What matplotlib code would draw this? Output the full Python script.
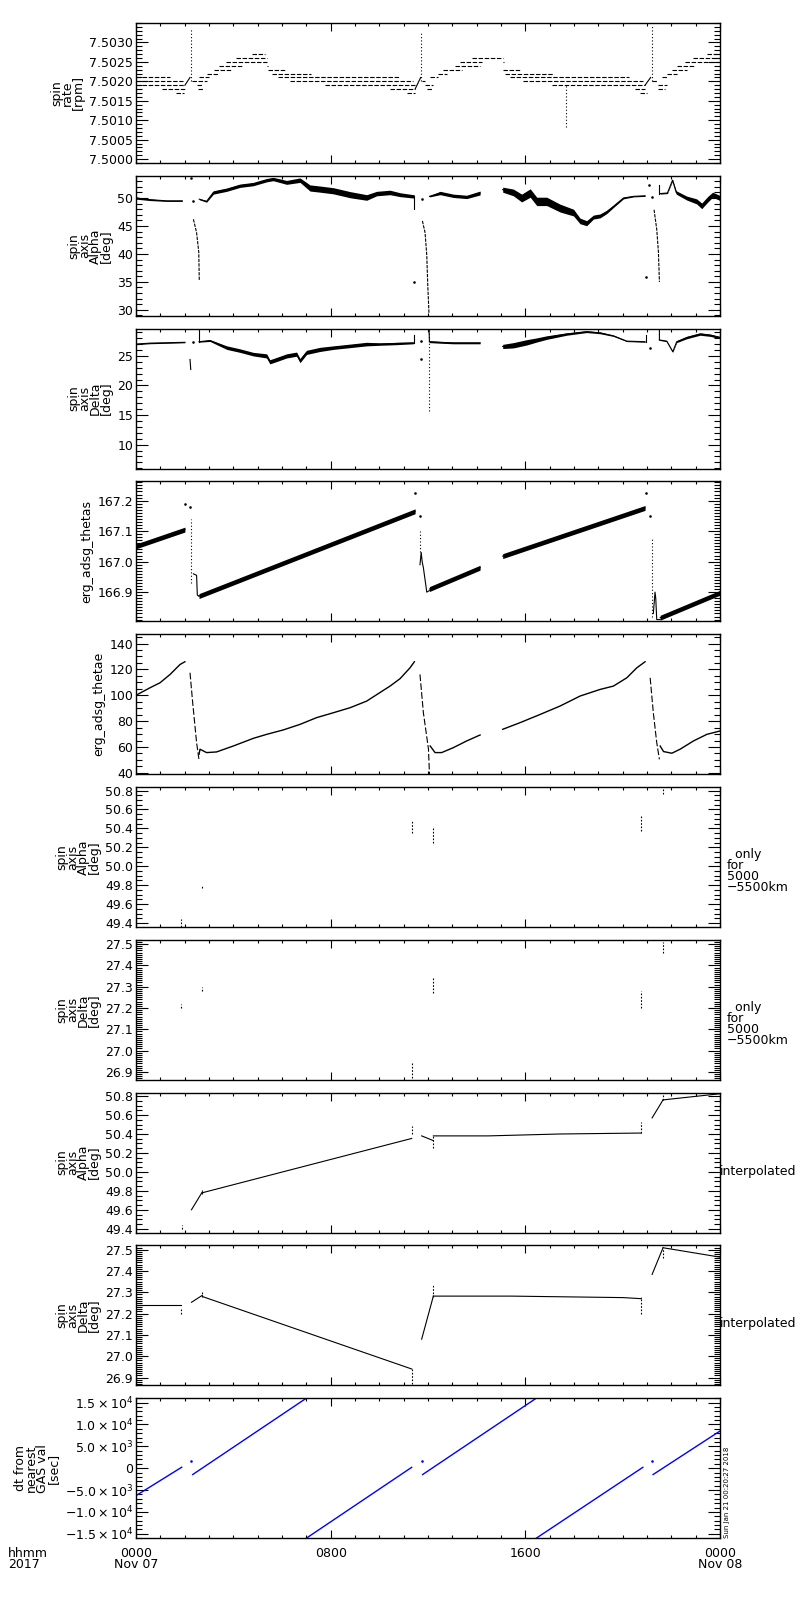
import matplotlib
matplotlib.use("Agg")
import matplotlib.pyplot as plt
import numpy as np
from matplotlib.ticker import FixedLocator, MultipleLocator, FixedFormatter, FormatStrFormatter

# ---------------- data (time in hours from 2017-11-07 00:00) ----------------
X_TICKS = [0, 8, 16, 24]
X_TICK_LABELS = ["0000\nNov 07", "0800", "1600", "0000\nNov 08"]

# Panel 1: spin rate [rpm] - quantised levels, drawn as runs
P1_RUN_START = [0.0, 0.0, 0.0, 1.05, 1.64, 2.30, 2.50, 2.55, 2.60, 2.90, 3.20, 3.40, 3.70, 4.10, 4.75,
                5.37, 5.44, 5.60, 5.85, 6.33, 7.77, 10.44, 11.13,
                11.74, 11.88, 11.95, 12.09, 12.43, 12.63, 13.11, 13.32, 13.80, 15.07, 15.10, 15.17,
                15.37, 15.92, 17.10, 20.51, 20.72,
                21.20, 21.47, 21.47, 21.60, 21.81, 22.02, 22.22, 22.56, 22.91, 23.46]
P1_RUN_END = [1.40, 1.95, 2.00, 2.00, 1.97, 2.90, 2.75, 2.75, 3.00, 3.40, 3.90, 4.40, 5.40, 5.40, 5.30,
              5.44, 6.12, 7.20, 10.85, 11.40, 11.47, 11.47, 11.47,
              11.88, 12.22, 12.15, 12.43, 12.77, 13.39, 14.14, 14.21, 15.10, 15.13, 15.78, 17.15,
              20.24, 20.85, 20.90, 20.92, 20.99,
              21.40, 21.81, 21.74, 21.88, 22.22, 22.63, 22.98, 24.0, 24.0, 24.0]
P1_RUN_LEVEL = [7.5021, 7.5020, 7.5019, 7.5018, 7.5017, 7.5020, 7.5019, 7.5018, 7.5021, 7.5022, 7.5023,
                7.5024, 7.5025, 7.5026, 7.5027,
                7.5024, 7.5023, 7.5022, 7.5021, 7.5020, 7.5019, 7.5018, 7.5017,
                7.5020, 7.5019, 7.5018, 7.5021, 7.5022, 7.5023, 7.5024, 7.5025, 7.5026, 7.5025, 7.5023,
                7.5022, 7.5021, 7.5020, 7.5019, 7.5018, 7.5017,
                7.5020, 7.5019, 7.5018, 7.5021, 7.5022, 7.5023, 7.5024, 7.5025, 7.5026, 7.5027]
P1_RAMP_H0 = [2.01, 11.47, 20.92]
P1_RAMP_H1 = [2.22, 11.70, 21.15]
P1_RAMP_V0 = [7.5019, 7.5018, 7.5019]
P1_RAMP_V1 = [7.5021, 7.5021, 7.5021]
P1_SPIKE_H = [2.26, 11.70, 21.20, 17.67]
P1_SPIKE_LO = [7.5020, 7.5020, 7.5020, 7.50082]
P1_SPIKE_HI = [7.50334, 7.50326, 7.50343, 7.5019]

# Panel 2: spin axis Alpha [deg] - band segments (centre, half width)
P2_SEG_H = [[0.0, 0.575, 1.26, 1.9],
            [2.6, 2.9, 3.18, 3.73, 4.27, 4.82, 5.37, 5.64, 6.19, 6.74, 7.15, 7.56, 8.11, 8.8, 9.48,
             9.89, 10.44, 10.85, 11.4, 11.44],
            [12.06, 12.5, 13.04, 13.59, 14.14],
            [15.07, 15.51, 15.85, 16.2, 16.47, 16.88, 17.43, 17.98, 18.25, 18.52, 18.8, 19.07, 19.34,
             19.62, 20.03, 20.44, 20.92],
            [21.54, 21.84, 22.05, 22.2, 22.63, 23.04, 23.25, 23.5, 23.7, 24.0]]
P2_SEG_V = [[50.0, 49.7, 49.5, 49.5],
            [49.8, 49.4, 51.0, 51.5, 52.2, 52.5, 53.2, 53.4, 52.8, 53.2, 51.8, 51.6, 51.3, 50.6, 50.1,
             50.8, 51.0, 50.6, 50.3, 50.3],
            [50.3, 50.9, 50.4, 50.2, 50.9],
            [51.5, 51.0, 50.0, 50.9, 49.4, 49.4, 48.2, 47.4, 45.9, 45.5, 46.6, 46.8, 47.5, 48.5, 50.0,
             50.3, 50.4],
            [50.8, 50.9, 53.2, 51.0, 50.0, 49.4, 48.6, 49.8, 50.6, 50.0]]
P2_SEG_W = [[0.2, 0.15, 0.1, 0.1],
            [0.1, 0.15, 0.3, 0.3, 0.3, 0.3, 0.3, 0.3, 0.35, 0.4, 0.55, 0.55, 0.55, 0.55, 0.5, 0.4,
             0.4, 0.35, 0.3, 0.2],
            [0.1, 0.3, 0.3, 0.3, 0.35],
            [0.45, 0.6, 0.7, 0.75, 0.75, 0.75, 0.7, 0.6, 0.5, 0.45, 0.35, 0.35, 0.3, 0.2, 0.15, 0.1,
             0.1],
            [0.1, 0.1, 0.15, 0.3, 0.35, 0.45, 0.5, 0.5, 0.45, 0.45]]
P2_DIP_H = [[2.36, 2.49, 2.58, 2.6], [11.77, 11.88, 11.95, 11.99, 12.04], [21.29, 21.4, 21.47, 21.51]]
P2_DIP_V = [[46.2, 43.8, 40.3, 35.3], [45.9, 43.8, 39.7, 34.4, 29.4], [47.9, 44.4, 40.3, 35.0]]
P2_DOT_H = [2.26, 2.33, 11.44, 11.74, 20.95, 21.1, 21.2]
P2_DOT_V = [53.6, 49.5, 34.9, 49.9, 35.8, 52.4, 50.2]
P2_STEP_H = [[11.44, 11.44], [21.51, 21.51]]
P2_STEP_V = [[50.3, 48.0], [50.8, 52.4]]

# Panel 3: spin axis Delta [deg]
P3_SEG_H = [[0.0, 0.575, 2.01],
            [2.59, 3.04, 3.73, 4.27, 4.82, 5.37, 5.5, 5.78, 6.19, 6.6, 6.74, 7.01, 7.56, 8.11, 8.8,
             9.48, 10.03, 10.71, 11.4],
            [12.06, 12.5, 13.04, 14.14],
            [15.07, 15.51, 16.06, 16.47, 16.88, 17.7, 18.52, 19.07, 19.62, 20.17, 20.92],
            [21.51, 21.81, 22.06, 22.22, 22.63, 23.18, 23.6, 24.0]]
P3_SEG_V = [[27.0, 27.16, 27.3],
            [27.4, 27.6, 26.4, 25.9, 25.3, 25.0, 24.0, 24.4, 25.0, 25.3, 24.2, 25.6, 26.1, 26.4, 26.7,
             27.0, 27.0, 27.1, 27.2],
            [27.4, 27.3, 27.2, 27.2],
            [26.6, 26.8, 27.3, 27.7, 28.1, 28.7, 29.1, 28.9, 28.4, 27.5, 27.4],
            [27.7, 27.5, 25.7, 27.4, 28.1, 28.7, 28.5, 28.1]]
P3_SEG_W = [[0.1, 0.1, 0.08],
            [0.08, 0.15, 0.3, 0.3, 0.3, 0.35, 0.35, 0.35, 0.35, 0.35, 0.35, 0.35, 0.35, 0.3, 0.3, 0.3,
             0.2, 0.2, 0.15],
            [0.15, 0.15, 0.15, 0.15],
            [0.35, 0.45, 0.45, 0.35, 0.3, 0.2, 0.15, 0.15, 0.1, 0.08, 0.08],
            [0.08, 0.08, 0.08, 0.15, 0.2, 0.2, 0.2, 0.2]]
P3_LINE_H = [[2.22, 2.25], [2.49, 2.59, 2.59], [11.44, 11.44], [11.95, 12.04, 12.06], [20.95, 20.95],
             [21.33, 21.51, 21.51]]
P3_LINE_V = [[24.4, 22.7], [29.6, 29.6, 27.4], [27.2, 28.5], [29.6, 29.6, 27.4], [27.4, 28.5],
             [29.5, 29.6, 27.7]]
P3_SPIKE_H = [12.04]
P3_SPIKE_LO = [15.6]
P3_SPIKE_HI = [29.5]
P3_DOT_H = [2.33, 11.7, 11.7, 21.13]
P3_DOT_V = [27.3, 27.6, 24.5, 26.4]

# Panel 4: erg_adsg_thetas
P4_SEG_H = [[0.0, 2.01], [2.59, 11.47], [12.06, 14.14], [15.07, 20.92], [21.54, 24.0]]
P4_SEG_V = [[167.05, 167.105], [166.887, 167.165], [166.91, 166.98], [167.018, 167.176],
            [166.816, 166.898]]
P4_BAND_W = 0.008
P4_HOOK_H = [[2.36, 2.49, 2.52, 2.59], [11.67, 11.72, 11.76, 11.81, 11.95, 12.06],
             [21.26, 21.33, 21.36, 21.4, 21.54]]
P4_HOOK_V = [[166.96, 166.955, 166.89, 166.887], [166.99, 167.03, 167.0, 166.98, 166.9, 166.905],
             [166.83, 166.9, 166.88, 166.81, 166.81]]
P4_SPIKE_H = [2.25, 11.67, 21.2]
P4_SPIKE_LO = [166.93, 167.03, 166.82]
P4_SPIKE_HI = [167.14, 167.10, 167.08]
P4_DOT_H = [2.01, 2.22, 11.47, 11.67, 20.95, 21.13]
P4_DOT_V = [167.19, 167.18, 167.225, 167.15, 167.225, 167.15]

# Panel 5: erg_adsg_thetae
P5_SEG_H = [[0.0, 0.575, 0.99, 1.4, 1.81, 2.01],
            [2.59, 2.63, 2.9, 3.31, 4.0, 4.82, 5.37, 6.05, 6.74, 7.42, 8.11, 8.8, 9.48, 10.1, 10.44,
             10.85, 11.26, 11.44],
            [12.09, 12.29, 12.56, 13.04, 13.59, 14.14],
            [15.07, 15.78, 16.61, 17.43, 18.25, 19.07, 19.62, 20.17, 20.58, 20.92],
            [21.54, 21.68, 22.02, 22.36, 22.91, 23.46, 24.0]]
P5_SEG_V = [[100.0, 105.8, 109.7, 116.1, 123.8, 125.9],
            [54.4, 58.3, 55.7, 56.2, 60.8, 66.7, 69.8, 73.2, 77.5, 82.7, 86.5, 90.4, 95.5, 103.0,
             107.1, 112.8, 121.2, 125.9],
            [60.8, 55.7, 55.7, 59.5, 64.7, 69.3],
            [73.7, 78.8, 85.2, 91.7, 99.4, 104.5, 107.1, 113.5, 121.2, 125.9],
            [60.8, 56.5, 55.2, 58.3, 64.7, 69.8, 72.4]]
P5_DROP_H = [[2.22, 2.33, 2.49, 2.59], [11.67, 11.81, 12.02, 12.06], [21.13, 21.26, 21.4, 21.51]]
P5_DROP_V = [[117.4, 94.2, 63.4, 50.0], [116.1, 86.5, 58.3, 39.0], [113.5, 86.5, 63.4, 50.5]]

# Panels 6/7: only for 5000-5500 km (short vertical clusters)
P6_MARK_H = [1.85, 2.73, 11.33, 12.22, 20.77, 21.66]
P6_MARK_LO = [49.36, 49.77, 50.35, 50.25, 50.37, 50.76]
P6_MARK_HI = [49.44, 49.80, 50.48, 50.40, 50.53, 50.84]
P7_MARK_H = [1.85, 2.73, 11.33, 12.22, 20.77, 21.66]
P7_MARK_LO = [27.20, 27.28, 26.87, 27.27, 27.20, 27.46]
P7_MARK_HI = [27.22, 27.30, 26.94, 27.34, 27.28, 27.51]

# Panel 8: interpolated Alpha
P8_SEG_H = [[2.28, 2.73], [2.73, 11.33], [11.74, 12.22], [12.22, 14.48, 17.42, 20.77], [21.21, 21.66],
            [21.66, 24.0]]
P8_SEG_V = [[49.60, 49.79], [49.78, 50.353], [50.38, 50.33], [50.38, 50.38, 50.40, 50.41],
            [50.57, 50.76], [50.76, 50.825]]
P8_MARK_H = [1.88, 2.73, 11.33, 12.22, 20.77, 21.66]
P8_MARK_LO = [49.40, 49.77, 50.40, 50.25, 50.41, 50.76]
P8_MARK_HI = [49.44, 49.81, 50.48, 50.38, 50.53, 50.837]

# Panel 9: interpolated Delta
P9_SEG_H = [[0.0, 1.85], [2.28, 2.73], [2.73, 11.33], [11.74, 12.22], [12.22, 15.44, 20.03, 20.77],
            [21.21, 21.66], [21.66, 24.0]]
P9_SEG_V = [[27.24, 27.24], [27.253, 27.286], [27.28, 26.94], [27.08, 27.282],
            [27.282, 27.282, 27.275, 27.27], [27.384, 27.509], [27.509, 27.465]]
P9_MARK_H = [1.85, 2.73, 11.33, 12.22, 20.77, 21.66]
P9_MARK_LO = [27.20, 27.28, 26.87, 27.28, 27.20, 27.46]
P9_MARK_HI = [27.22, 27.30, 26.94, 27.34, 27.28, 27.51]

# Panel 10: dt from nearest GAS val [sec]
P10_SEG_H0 = [0.0, 2.33, 7.0, 11.78, 16.45, 21.25]
P10_SEG_H1 = [1.88, 7.0, 11.33, 16.45, 20.83, 24.0]
P10_SEG_V0 = [-6270, -1450, -16000, -1450, -16000, -1450]
P10_SEG_V1 = [230, 16000, 200, 16000, 200, 8500]
P10_DOT_H = [2.28, 11.74, 21.2]
P10_DOT_V = [1600, 1600, 1600]

YLABELS = ["spin\nrate\n[rpm]", "spin\naxis\nAlpha\n[deg]", "spin\naxis\nDelta\n[deg]",
           "erg_adsg_thetas", "erg_adsg_thetae", "spin\naxis\nAlpha\n[deg]", "spin\naxis\nDelta\n[deg]",
           "spin\naxis\nAlpha\n[deg]", "spin\naxis\nDelta\n[deg]", "dt from\nnearest\nGAS val\n[sec]"]
YLIMS = [(7.4999, 7.5035), (28.93, 53.98), (5.94, 29.62), (166.804, 167.263), (39.0, 147.2),
         (49.359, 50.837), (26.863, 27.52), (49.359, 50.837), (26.863, 27.52), (-16000, 16000)]
YTICKS = [[7.5000, 7.5005, 7.5010, 7.5015, 7.5020, 7.5025, 7.5030],
          [30, 35, 40, 45, 50], [10, 15, 20, 25], [166.9, 167.0, 167.1, 167.2],
          [40, 60, 80, 100, 120, 140],
          [49.4, 49.6, 49.8, 50.0, 50.2, 50.4, 50.6, 50.8],
          [26.9, 27.0, 27.1, 27.2, 27.3, 27.4, 27.5],
          [49.4, 49.6, 49.8, 50.0, 50.2, 50.4, 50.6, 50.8],
          [26.9, 27.0, 27.1, 27.2, 27.3, 27.4, 27.5],
          [-15000, -10000, -5000, 0, 5000, 10000, 15000]]
YMINOR = [0.0001, 1, 1, 0.01, 5, 0.05, 0.01, 0.05, 0.01, 1000]
YFMT = ["%.4f", "%d", "%d", "%.1f", "%d", "%.1f", "%.1f", "%.1f", "%.1f", None]
P10_YTICK_LABELS = [r"$-1.5\times10^{4}$", r"$-1.0\times10^{4}$", r"$-5.0\times10^{3}$", "0",
                    r"$5.0\times10^{3}$", r"$1.0\times10^{4}$", r"$1.5\times10^{4}$"]
RIGHT_NOTES = [None, None, None, None, None, "  only\nfor\n5000\n\u22125500km",
               "  only\nfor\n5000\n\u22125500km", "interpolated", "interpolated", None]
STAMP = "Sun Jan 21 00:20:27 2018"

# ---------------- drawing ----------------
plt.rcParams["font.family"] = ["DejaVu Sans"]
plt.rcParams["mathtext.fontset"] = "dejavusans"
FS = 9
K = "black"
fig = plt.figure(figsize=(8, 16), dpi=100)

axes = []
for i in range(10):
    top_px = 23 + 152.8 * i
    ax = fig.add_axes([136 / 800, 1 - (top_px + 140) / 1600, 584 / 800, 140 / 1600])
    axes.append(ax)
    ax.set_xlim(0, 24)
    ax.set_ylim(*YLIMS[i])
    ax.xaxis.set_major_locator(FixedLocator(X_TICKS))
    ax.xaxis.set_minor_locator(MultipleLocator(1))
    ax.yaxis.set_major_locator(FixedLocator(YTICKS[i]))
    ax.yaxis.set_minor_locator(MultipleLocator(YMINOR[i]))
    if YFMT[i] is not None:
        ax.yaxis.set_major_formatter(FormatStrFormatter(YFMT[i]))
    else:
        ax.yaxis.set_major_formatter(FixedFormatter(P10_YTICK_LABELS))
    ax.tick_params(which="both", direction="in", top=True, right=True, width=0.8, colors=K,
                   labelsize=FS)
    ax.tick_params(axis="y", which="major", length=8.5, pad=2)
    ax.tick_params(axis="y", which="minor", length=4.5)
    ax.tick_params(axis="x", which="major", length=5.5)
    ax.tick_params(axis="x", which="minor", length=2.5)
    ax.tick_params(axis="x", labelbottom=False)
    for s in ax.spines.values():
        s.set_linewidth(1.0)
    ax.set_ylabel(YLABELS[i], fontsize=FS, linespacing=0.8, labelpad=3)
    if RIGHT_NOTES[i] is not None:
        if RIGHT_NOTES[i] == "interpolated":
            ax.text(1.0, 0.44, RIGHT_NOTES[i], transform=ax.transAxes, ha="left", va="center",
                    fontsize=FS)
        else:
            ax.text(1.012, 0.4, RIGHT_NOTES[i], transform=ax.transAxes, ha="left", va="center",
                    fontsize=FS, linespacing=0.8, multialignment="left")

LW = 0.8
# Panel 1
ax = axes[0]
ax.hlines(P1_RUN_LEVEL, P1_RUN_START, P1_RUN_END, colors=K, lw=LW, linestyles=(0, (4, 1.5)))
for h0, h1, v0, v1 in zip(P1_RAMP_H0, P1_RAMP_H1, P1_RAMP_V0, P1_RAMP_V1):
    ax.plot([h0, h1], [v0, v1], color=K, lw=LW)
ax.vlines(P1_SPIKE_H, P1_SPIKE_LO, P1_SPIKE_HI, colors=K, lw=LW, linestyles=(0, (1, 2)))


def draw_bands(ax, hs, vs, ws):
    for h, v, w in zip(hs, vs, ws):
        h = np.asarray(h); v = np.asarray(v); w = np.asarray(w)
        ax.fill_between(h, v - w, v + w, color=K, lw=0)
        ax.plot(h, v, color=K, lw=LW)


# Panel 2
ax = axes[1]
draw_bands(ax, P2_SEG_H, P2_SEG_V, P2_SEG_W)
for h, v in zip(P2_DIP_H, P2_DIP_V):
    ax.plot(h, v, color=K, lw=LW, ls=(0, (3, 1)))
for h, v in zip(P2_STEP_H, P2_STEP_V):
    ax.plot(h, v, color=K, lw=LW)
ax.plot(P2_DOT_H, P2_DOT_V, ls="none", marker="s", ms=0.8, color=K)

# Panel 3
ax = axes[2]
draw_bands(ax, P3_SEG_H, P3_SEG_V, P3_SEG_W)
for h, v in zip(P3_LINE_H, P3_LINE_V):
    ax.plot(h, v, color=K, lw=LW)
ax.vlines(P3_SPIKE_H, P3_SPIKE_LO, P3_SPIKE_HI, colors=K, lw=LW, linestyles=(0, (1, 2)))
ax.plot(P3_DOT_H, P3_DOT_V, ls="none", marker="s", ms=0.8, color=K)

# Panel 4
ax = axes[3]
draw_bands(ax, P4_SEG_H, P4_SEG_V, [[P4_BAND_W] * len(h) for h in P4_SEG_H])
for h, v in zip(P4_HOOK_H, P4_HOOK_V):
    ax.plot(h, v, color=K, lw=LW)
ax.vlines(P4_SPIKE_H, P4_SPIKE_LO, P4_SPIKE_HI, colors=K, lw=LW, linestyles=(0, (1, 2)))
ax.plot(P4_DOT_H, P4_DOT_V, ls="none", marker="s", ms=0.8, color=K)

# Panel 5
ax = axes[4]
for h, v in zip(P5_SEG_H, P5_SEG_V):
    ax.plot(h, v, color=K, lw=LW + 0.2)
for h, v in zip(P5_DROP_H, P5_DROP_V):
    ax.plot(h, v, color=K, lw=LW, ls=(0, (6, 2)))

# Panels 6, 7
axes[5].vlines(P6_MARK_H, P6_MARK_LO, P6_MARK_HI, colors=K, lw=LW, linestyles=(0, (1.5, 1.5)))
axes[6].vlines(P7_MARK_H, P7_MARK_LO, P7_MARK_HI, colors=K, lw=LW, linestyles=(0, (1.5, 1.5)))

# Panels 8, 9
ax = axes[7]
for h, v in zip(P8_SEG_H, P8_SEG_V):
    ax.plot(h, v, color=K, lw=LW)
ax.vlines(P8_MARK_H, P8_MARK_LO, P8_MARK_HI, colors=K, lw=LW, linestyles=(0, (1.5, 1.5)))
ax = axes[8]
for h, v in zip(P9_SEG_H, P9_SEG_V):
    ax.plot(h, v, color=K, lw=LW)
ax.vlines(P9_MARK_H, P9_MARK_LO, P9_MARK_HI, colors=K, lw=LW, linestyles=(0, (1.5, 1.5)))

# Panel 10
ax = axes[9]
for h0, h1, v0, v1 in zip(P10_SEG_H0, P10_SEG_H1, P10_SEG_V0, P10_SEG_V1):
    ax.plot([h0, h1], [v0, v1], color="#0000ff", lw=1.0)
ax.plot(P10_DOT_H, P10_DOT_V, ls="none", marker="s", ms=0.8, color="#0000ff")
ax.tick_params(axis="x", labelbottom=True, pad=6)
ax.set_xticklabels(X_TICK_LABELS)
for lab in ax.get_xticklabels():
    lab.set_linespacing(0.85)
ax.text(1.007, 0.0, STAMP, transform=ax.transAxes, rotation=90, ha="left", va="bottom",
        fontsize=5)

fig.text(8 / 800, 1 - 1547 / 1600, "hhmm\n2017", ha="left", va="top", fontsize=FS, linespacing=0.85)

fig.savefig("out.png", dpi=100)
